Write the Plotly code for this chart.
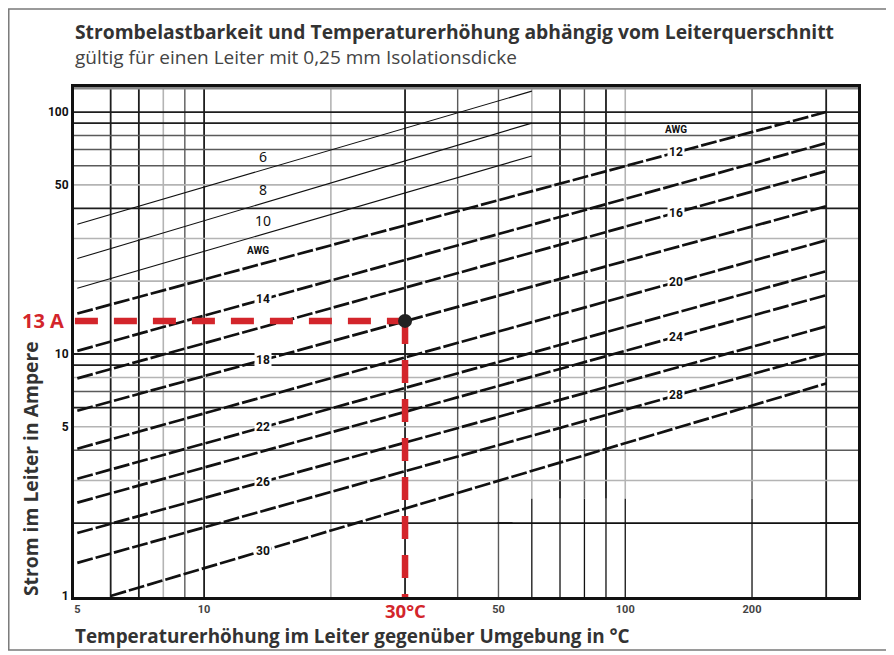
import numpy as np
import plotly.graph_objects as go

# ---------------- data ----------------
# thin lines (AWG 6, 8, 10): current at T=5 and T=60
thin_awg = ["6", "8", "10"]
thin_T = [5, 60]
thin_I_start = [34.4, 24.8, 18.7]
thin_I_end = [122, 90, 65.8]

# thick lines (AWG 12 ... 30)
thick_awg = ["12", "14", "16", "18", "20", "22", "24", "26", "28", "30"]
thick_T_start = [5, 5, 5, 5, 5, 5, 5, 5, 5, 6]
thick_T_end = [300, 300, 300, 300, 300, 300, 300, 300, 300, 300]
thick_I_start = [14.7, 10.3, 7.93, 5.83, 4.06, 3.05, 2.43, 1.82, 1.37, 1.0]
thick_I_end = [100, 74.4, 57.0, 40.8, 29.5, 22.0, 17.5, 13.0, 10.05, 7.55]
left_labelled = ["14", "18", "22", "26", "30"]
right_labelled = ["12", "16", "20", "24", "28"]
label_T_left = 13.8
label_T_right = 132
thin_label_T = 13.8

# worked example
example_T = 30
example_I = 13.7
example_I_text = "13 A"
example_T_text = "30°C"

# axes
x_range = [4.91, 357]
y_range = [0.99, 126.9]
x_tickvals = [5, 10, 50, 100, 200]
x_ticktext = ["5", "10", "50", "100", "200"]
y_tickvals = [1, 5, 10, 50, 100]
y_ticktext = ["1", "5", "10", "50", "100"]
x_grid = [6, 7, 8, 9, 10, 20, 30, 40, 50, 60, 70, 80, 90, 100, 200, 300]
x_grid_kind = ["d", "d", "l", "m", "d", "l", "d", "m", "m", "l", "d", "m", "d", "l", "m", "d"]
y_grid = [2, 3, 4, 5, 6, 7, 8, 9, 10, 20, 30, 40, 50, 60, 70, 80, 90, 100]
y_grid_kind = ["d", "l", "m", "l", "d", "m", "l", "d", "d", "l", "l", "d", "l", "m", "m", "m", "d", "d"]
# patched white region in the lower right and the thin lines drawn in it
patch_T = [54, 290]
patch_I = [0.99, 2.52]
patch_lines_T = [60, 70, 80, 90, 100, 200]

title = "Strombelastbarkeit und Temperaturerhöhung abhängig vom Leiterquerschnitt"
subtitle = "gültig für einen Leiter mit 0,25 mm Isolationsdicke"
x_title = "Temperaturerhöhung im Leiter gegenüber Umgebung in °C"
y_title = "Strom im Leiter in Ampere"

# ---------------- styles ----------------
GRID_STYLE = {"d": dict(color="#1e1e1e", width=1.8),
              "m": dict(color="#5a5a5a", width=1.4),
              "l": dict(color="#b4b4b4", width=1.6)}
RED = "#d3252b"
FONT = "Open Sans"

fig = go.Figure()

shapes = []
for v, k in zip(x_grid, x_grid_kind):
    shapes.append(dict(type="line", xref="x", yref="paper", x0=v, x1=v, y0=0, y1=1,
                       line=GRID_STYLE[k], layer="below"))
for v, k in zip(y_grid, y_grid_kind):
    shapes.append(dict(type="line", xref="paper", yref="y", x0=0, x1=1, y0=v, y1=v,
                       line=GRID_STYLE[k], layer="below"))
# white patch
shapes.append(dict(type="rect", xref="x", yref="y", x0=patch_T[0], x1=patch_T[1],
                   y0=patch_I[0], y1=patch_I[1], fillcolor="white", line=dict(width=0),
                   layer="below"))
for v in patch_lines_T:
    shapes.append(dict(type="line", xref="x", yref="y", x0=v, x1=v, y0=patch_I[0], y1=patch_I[1],
                       line=dict(color="#111", width=1.3), layer="below"))
shapes.append(dict(type="line", xref="x", yref="y", x0=patch_T[0] * 0.92, x1=x_range[1], y0=2, y1=2,
                   line=dict(color="#111", width=1.8), layer="below"))
# top double frame line
shapes.append(dict(type="line", xref="paper", yref="paper", x0=0, x1=1, y0=1, y1=1,
                   line=dict(color="#8a8a8a", width=5), layer="below"))
# outer border
shapes.append(dict(type="rect", xref="paper", yref="paper", x0=-0.0832, x1=1.0383,
                   y0=-0.1039, y1=1.1529, line=dict(color="#7a7a7a", width=1.5)))

# thin lines
for name, i0, i1 in zip(thin_awg, thin_I_start, thin_I_end):
    fig.add_trace(go.Scatter(x=thin_T, y=[i0, i1], mode="lines",
                             line=dict(color="#111", width=1.1), hoverinfo="skip",
                             showlegend=False))

# thick lines
for name, t0, t1, i0, i1 in zip(thick_awg, thick_T_start, thick_T_end, thick_I_start, thick_I_end):
    fig.add_trace(go.Scatter(x=[t0, t1], y=[i0, i1], mode="lines",
                             line=dict(color="#111", width=2.7, dash="16px,3px"),
                             hoverinfo="skip", showlegend=False))

def on_line(t, t0, t1, i0, i1):
    lt, lt0, lt1 = np.log10(t), np.log10(t0), np.log10(t1)
    li = np.log10(i0) + (lt - lt0) * (np.log10(i1) - np.log10(i0)) / (lt1 - lt0)
    return 10 ** li

annotations = []
for name, t0, t1, i0, i1 in zip(thick_awg, thick_T_start, thick_T_end, thick_I_start, thick_I_end):
    t = label_T_left if name in left_labelled else label_T_right
    annotations.append(dict(x=np.log10(t), y=np.log10(on_line(t, t0, t1, i0, i1)),
                            xref="x", yref="y", text=name, showarrow=False,
                            font=dict(family="Roboto", size=12, color="#111", weight="bold"),
                            bgcolor="white", borderpad=1))
# AWG headers
i12 = on_line(label_T_left, thick_T_start[0], thick_T_end[0], thick_I_start[0], thick_I_end[0])
annotations.append(dict(x=np.log10(label_T_left) - 0.012, y=np.log10(i12) + 0.055, xref="x", yref="y",
                        text="AWG", showarrow=False,
                        font=dict(family="Roboto", size=10, color="#111", weight="bold")))
i12r = on_line(label_T_right, thick_T_start[0], thick_T_end[0], thick_I_start[0], thick_I_end[0])
annotations.append(dict(x=np.log10(label_T_right), y=np.log10(i12r) + 0.095, xref="x", yref="y",
                        text="AWG", showarrow=False,
                        font=dict(family="Roboto", size=10, color="#111", weight="bold")))
# thin line labels
for name, i0, i1 in zip(thin_awg, thin_I_start, thin_I_end):
    yi = on_line(thin_label_T, thin_T[0], thin_T[1], i0, i1)
    annotations.append(dict(x=np.log10(thin_label_T), y=np.log10(yi) + 0.056, xref="x", yref="y",
                            text=name, showarrow=False,
                            font=dict(family="Noto Sans", size=14, color="#111")))

# example: red dashed guides and dot
fig.add_trace(go.Scatter(x=[x_range[0] * 1.005, example_T], y=[example_I, example_I], mode="lines",
                         line=dict(color=RED, width=6.5, dash="23px,16px"),
                         hoverinfo="skip", showlegend=False))
fig.add_trace(go.Scatter(x=[example_T, example_T], y=[example_I, y_range[0]], mode="lines",
                         line=dict(color=RED, width=6.5, dash="23px,16px"),
                         hoverinfo="skip", showlegend=False))
fig.add_trace(go.Scatter(x=[example_T], y=[example_I], mode="markers",
                         marker=dict(color="#222", size=14), hoverinfo="skip", showlegend=False))
annotations.append(dict(x=-0.0100, y=np.log10(example_I), xref="paper", yref="y",
                        text=example_I_text, showarrow=False, xanchor="right",
                        font=dict(family=FONT, size=20, color=RED, weight="bold")))
annotations.append(dict(x=np.log10(example_T), y=-0.0255, xref="x", yref="paper",
                        text=example_T_text, showarrow=False, yanchor="middle",
                        font=dict(family=FONT, size=18.5, color=RED, weight="bold")))

# titles
annotations.append(dict(x=-0.001, y=1.108, xref="paper", yref="paper", text=title, showarrow=False,
                        xanchor="left", yanchor="middle",
                        font=dict(family=FONT, size=19.3, color="#333", weight="bold")))
annotations.append(dict(x=-0.001, y=1.0588, xref="paper", yref="paper", text=subtitle, showarrow=False,
                        xanchor="left", yanchor="middle",
                        font=dict(family=FONT, size=19, color="#444")))
annotations.append(dict(x=-0.001, y=-0.0770, xref="paper", yref="paper", text=x_title, showarrow=False,
                        xanchor="left", yanchor="middle",
                        font=dict(family=FONT, size=18.9, color="#333", weight="bold")))
annotations.append(dict(x=-0.0548, y=0.251, xref="paper", yref="paper", text=y_title, showarrow=False,
                        textangle=-90, xanchor="center", yanchor="middle",
                        font=dict(family=FONT, size=19.3, color="#333", weight="bold")))

# the page adds an 8px body margin, so the figure is 8px smaller than the window
fig.update_layout(
    width=886, height=647,
    margin=dict(l=66, r=36, t=79, b=58),
    paper_bgcolor="white", plot_bgcolor="white",
    shapes=shapes, annotations=annotations,
    xaxis=dict(type="log", range=[np.log10(x_range[0]), np.log10(x_range[1])],
               showgrid=False, zeroline=False, showline=True, mirror=True,
               linecolor="#111", linewidth=3, ticks="",
               tickvals=x_tickvals, ticktext=x_ticktext,
               tickfont=dict(family="Roboto", size=11, color="#444", weight="bold")),
    yaxis=dict(type="log", range=[np.log10(y_range[0]), np.log10(y_range[1])],
               showgrid=False, zeroline=False, showline=True, mirror=True,
               linecolor="#111", linewidth=3, ticks="",
               tickvals=y_tickvals, ticktext=y_ticktext,
               tickfont=dict(family="Roboto", size=12, color="#111", weight="bold")),
)

fig.write_html("out.html")
